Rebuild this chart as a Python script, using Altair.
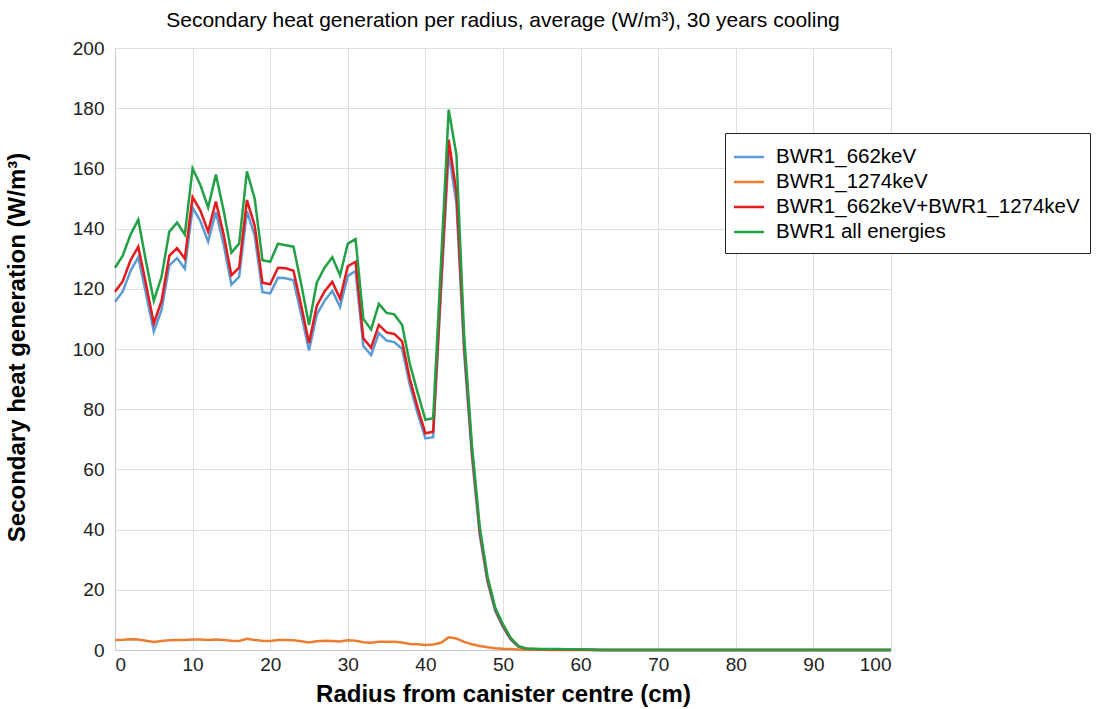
import altair as alt
import pandas as pd

# Radius from the canister centre, one sample per cm
radius = list(range(0, 101))

# Secondary heat generation (W/m3) per series
bwr1_662 = [
    115.7, 119.1, 125.9, 130.5, 118.4, 105.8, 113.0, 127.8, 130.2, 126.7,
    147.0, 142.5, 135.7, 145.5, 134.7, 121.4, 124.0, 145.8, 137.7, 118.9,
    118.5, 123.7, 123.5, 122.8, 111.5, 99.5, 111.4, 116.0, 119.3, 114.0,
    124.3, 125.9, 101.0, 98.0, 105.3, 102.8, 102.3, 100.0, 88.0, 78.6,
    70.3, 70.7, 118.6, 165.3, 148.3, 98.3, 64.2, 38.2, 22.6, 12.9,
    7.6, 3.4, 1.05, 0.35, 0.25, 0.22, 0.2, 0.18, 0.15, 0.12,
    0.1, 0.05, 0.0, 0.0, 0.0, 0.0, 0.0, 0.0, 0.0, 0.0,
    0.0, 0.0, 0.0, 0.0, 0.0, 0.0, 0.0, 0.0, 0.0, 0.0,
    0.0, 0.0, 0.0, 0.0, 0.0, 0.0, 0.0, 0.0, 0.0, 0.0,
    0.0, 0.0, 0.0, 0.0, 0.0, 0.0, 0.0, 0.0, 0.0, 0.0,
    0.0,
]

bwr1_1274 = [
    3.3, 3.4, 3.6, 3.5, 3.1, 2.7, 3.0, 3.2, 3.3, 3.3,
    3.5, 3.5, 3.3, 3.5, 3.3, 3.1, 3.0, 3.7, 3.3, 3.1,
    3.0, 3.3, 3.3, 3.2, 2.9, 2.5, 2.9, 3.1, 3.0, 2.8,
    3.2, 3.1, 2.6, 2.4, 2.7, 2.7, 2.7, 2.5, 2.0, 1.9,
    1.7, 1.8, 2.4, 4.2, 3.8, 2.7, 1.9, 1.3, 0.9, 0.6,
    0.4, 0.3, 0.15, 0.08, 0.05, 0.05, 0.04, 0.04, 0.03, 0.02,
    0.02, 0.01, 0.0, 0.0, 0.0, 0.0, 0.0, 0.0, 0.0, 0.0,
    0.0, 0.0, 0.0, 0.0, 0.0, 0.0, 0.0, 0.0, 0.0, 0.0,
    0.0, 0.0, 0.0, 0.0, 0.0, 0.0, 0.0, 0.0, 0.0, 0.0,
    0.0, 0.0, 0.0, 0.0, 0.0, 0.0, 0.0, 0.0, 0.0, 0.0,
    0.0,
]

bwr1_sum = [
    119.0, 122.5, 129.5, 134.0, 121.5, 108.5, 116.0, 131.0, 133.5, 130.0,
    150.5, 146.0, 139.0, 149.0, 138.0, 124.5, 127.0, 149.5, 141.0, 122.0,
    121.5, 127.0, 126.8, 126.0, 114.4, 102.0, 114.3, 119.1, 122.3, 116.8,
    127.5, 129.0, 103.6, 100.4, 108.0, 105.5, 105.0, 102.5, 90.0, 80.5,
    72.0, 72.5, 121.0, 169.5, 152.1, 101.0, 66.1, 39.5, 23.5, 13.5,
    8.0, 3.7, 1.2, 0.43, 0.3, 0.27, 0.24, 0.22, 0.18, 0.14,
    0.12, 0.06, 0.0, 0.0, 0.0, 0.0, 0.0, 0.0, 0.0, 0.0,
    0.0, 0.0, 0.0, 0.0, 0.0, 0.0, 0.0, 0.0, 0.0, 0.0,
    0.0, 0.0, 0.0, 0.0, 0.0, 0.0, 0.0, 0.0, 0.0, 0.0,
    0.0, 0.0, 0.0, 0.0, 0.0, 0.0, 0.0, 0.0, 0.0, 0.0,
    0.0,
]

bwr1_all = [
    127.0, 131.0, 138.0, 143.0, 129.0, 116.0, 124.0, 139.0, 142.0, 138.0,
    160.0, 154.5, 147.0, 158.0, 146.0, 132.0, 135.0, 159.0, 150.0, 129.5,
    129.0, 135.0, 134.5, 134.0, 121.5, 108.0, 122.0, 127.0, 130.5, 124.5,
    135.0, 136.5, 110.0, 106.5, 115.0, 112.0, 111.5, 108.0, 95.0, 85.5,
    76.5, 77.0, 128.0, 179.5, 164.5, 104.0, 68.0, 41.0, 24.5, 14.0,
    8.5, 4.0, 1.3, 0.5, 0.4, 0.35, 0.32, 0.3, 0.28, 0.25,
    0.2, 0.15, 0.05, 0.0, 0.0, 0.0, 0.0, 0.0, 0.0, 0.0,
    0.0, 0.0, 0.0, 0.0, 0.0, 0.0, 0.0, 0.0, 0.0, 0.0,
    0.0, 0.0, 0.0, 0.0, 0.0, 0.0, 0.0, 0.0, 0.0, 0.0,
    0.0, 0.0, 0.0, 0.0, 0.0, 0.0, 0.0, 0.0, 0.0, 0.0,
    0.0,
]

series_names = [
    "BWR1_662keV",
    "BWR1_1274keV",
    "BWR1_662keV+BWR1_1274keV",
    "BWR1 all energies",
]
series_colors = ["#5b9bd5", "#ed7d31", "#e41a1c", "#22a046"]

x_ticks = list(range(0, 101, 10))
y_ticks = list(range(0, 201, 20))

# Long-form table, series kept in drawing order (green ends up on top)
rows = []
for name, values in zip(series_names, [bwr1_662, bwr1_1274, bwr1_sum, bwr1_all]):
    for r, v in zip(radius, values):
        rows.append({"radius": r, "value": v, "series": name})
df = pd.DataFrame(rows)

FONT = "Liberation Sans"

chart = (
    alt.Chart(df)
    .mark_line(strokeWidth=2.5)
    .encode(
        x=alt.X(
            "radius:Q",
            scale=alt.Scale(domain=[0, 100], nice=False, zero=False),
            axis=alt.Axis(
                values=x_ticks,
                title="Radius from canister centre (cm)",
                titleX=388,
                titleY=32,
                labelPadding=5,
            ),
        ),
        y=alt.Y(
            "value:Q",
            scale=alt.Scale(domain=[0, 200], nice=False),
            axis=alt.Axis(
                values=y_ticks,
                title="Secondary heat generation (W/m³)",
                titleX=-86,
                titleY=299,
                labelPadding=11,
            ),
        ),
        color=alt.Color(
            "series:N",
            sort=series_names,
            scale=alt.Scale(domain=series_names, range=series_colors),
            legend=alt.Legend(
                title=None,
                orient="none",
                legendX=610,
                legendY=85,
                fillColor="white",
                strokeColor="#222222",
                padding=10,
                # short horizontal stroke, 30 px long, in a 25 px row
                symbolType="M-1.2,0H1.2",
                symbolSize=625,
                symbolStrokeWidth=2.5,
                labelFont=FONT,
                labelFontSize=20.5,
                labelColor="black",
                labelOffset=13,
                rowPadding=0,
                labelLimit=400,
            ),
        ),
    )
    .properties(
        width=776,
        height=602,
        autosize=alt.AutoSizeParams(type="none"),
        padding={"left": 115, "top": 48, "right": 206, "bottom": 59},
        title=alt.TitleParams(
            text="Secondary heat generation per radius, average (W/m³), 30 years cooling",
            anchor="middle",
            font=FONT,
            fontSize=21,
            fontWeight="normal",
            color="black",
            offset=8,
        ),
    )
    .configure_view(stroke=None)
    .configure_axis(
        labelFont=FONT,
        labelFontSize=19,
        labelColor="#222222",
        titleFont=FONT,
        titleFontSize=24,
        titleFontWeight="bold",
        titleColor="black",
        ticks=False,
        gridColor="#dedede",
        gridWidth=1,
        domainColor="#c8c8c8",
        domainWidth=1,
    )
)

chart.save("out.html", embed_options={"renderer": "svg", "actions": False})
